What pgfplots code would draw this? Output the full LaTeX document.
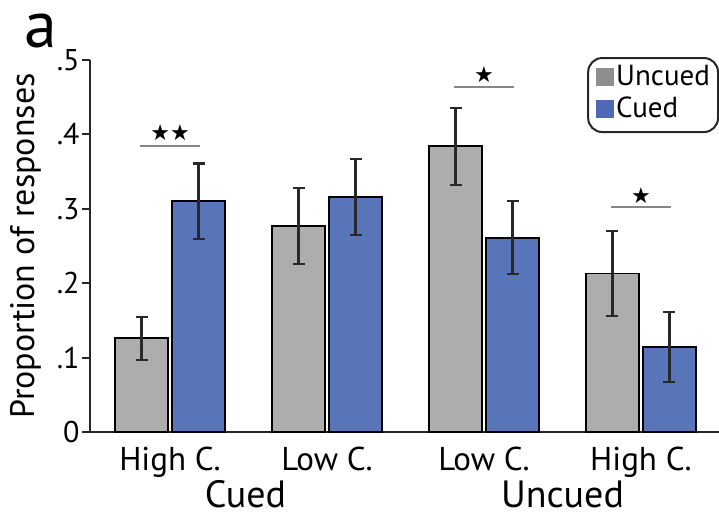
\documentclass[border=0pt]{standalone}
\usepackage{fontspec}
\setmainfont{PT Sans}
\newfontfamily\symfont{DejaVu Sans}
\usepackage{pgfplots}
\usepackage{pgfplotstable}
\pgfplotsset{compat=1.18}

\definecolor{barGray}{RGB}{172,173,172}
\definecolor{barBlue}{RGB}{89,117,186}
\definecolor{keyGray}{RGB}{142,142,142}
\definecolor{keyBlue}{RGB}{80,105,180}
\definecolor{errGray}{RGB}{40,40,40}
\definecolor{sigGray}{RGB}{135,135,135}

% mean proportion and error half-width per condition
\pgfplotstableread{
x  mean   err
0  0.126  0.029
1  0.277  0.051
2  0.384  0.052
3  0.213  0.057
}\uncuedtab
\pgfplotstableread{
x  mean   err
0  0.310  0.051
1  0.316  0.051
2  0.261  0.049
3  0.114  0.047
}\cuedtab

\newcommand{\sigstar}[1]{{\symfont\fontsize{11}{11}\selectfont #1}}
\newcommand{\keybox}[1]{{\color{#1}\rule[-0.3pt]{9pt}{9pt}}}

\begin{document}
\begin{tikzpicture}
\useasboundingbox (-45pt,-42pt) rectangle (314.5pt,216pt);
\begin{axis}[
  scale only axis,
  width=314.5pt, height=186pt,
  xmin=-0.51, xmax=3.497,
  ymin=0, ymax=0.5,
  clip=false,
  axis x line=bottom, axis y line=left,
  axis line style={-, line width=1pt, black!85},
  ytick={0,0.1,0.2,0.3,0.4,0.5},
  yticklabels={0,.1,.2,.3,.4,.5},
  xtick={0,1,2,3},
  xticklabels={High C.,Low C.,Low C.,High C.},
  x tick style={draw=none},
  y tick style={line width=1pt, black!85},
  ytick align=outside,
  major tick length=4pt,
  /pgf/number format/assume math mode=true,
  yticklabel style={font=\fontsize{15}{15}\selectfont, inner xsep=1pt},
  xticklabel style={font=\fontsize{16.5}{16.5}\selectfont, yshift=0pt},
  ybar,
  bar width=0.338,
]
\addplot[fill=barGray, draw=black, line width=0.9pt, bar shift=-0.1815,
  error bars/.cd, y dir=both, y explicit,
  error bar style={line width=1.1pt, errGray},
  error mark options={rotate=90, mark size=3pt, line width=1.1pt, errGray}]
  table[x=x, y=mean, y error=err] {\uncuedtab};
\addplot[fill=barBlue, draw=black, line width=0.9pt, bar shift=0.1815,
  error bars/.cd, y dir=both, y explicit,
  error bar style={line width=1.1pt, errGray},
  error mark options={rotate=90, mark size=3pt, line width=1.1pt, errGray}]
  table[x=x, y=mean, y error=err] {\cuedtab};

% significance markers
\draw[sigGray, line width=1.1pt] (axis cs:-0.19,0.384) -- (axis cs:0.19,0.384);
\node at (axis cs:0,0.402) {\sigstar{★★}};
\draw[sigGray, line width=1.1pt] (axis cs:1.81,0.464) -- (axis cs:2.19,0.464);
\node at (axis cs:2,0.481) {\sigstar{★}};
\draw[sigGray, line width=1.1pt] (axis cs:2.81,0.302) -- (axis cs:3.19,0.302);
\node at (axis cs:3,0.318) {\sigstar{★}};

% key
\coordinate (keypos) at (rel axis cs:1.0,1.008);
\node[anchor=north east, draw=black!85, line width=1pt, rounded corners=7pt,
      inner xsep=4pt, inner ysep=2.5pt, font=\fontsize{14.5}{16}\selectfont]
  at (keypos) {\begin{tabular}{@{}l@{}}
    \keybox{keyGray}\hspace{1pt}Uncued\\
    \keybox{keyBlue}\hspace{1pt}Cued
  \end{tabular}};

% group labels
\node[font=\fontsize{19}{19}\selectfont, inner sep=0pt] at ([yshift=-31pt]axis cs:0.48,0) {Cued};
\node[font=\fontsize{19}{19}\selectfont, inner sep=0pt] at ([yshift=-31pt]axis cs:2.5,0) {Uncued};

% y-axis title
\coordinate (ylab) at ([xshift=-32pt]rel axis cs:0,0.5);
\node[rotate=90, font=\fontsize{17}{17}\selectfont] at (ylab) {Proportion of responses};

% panel letter
\coordinate (plet) at ([xshift=-24.5pt,yshift=200.5pt]rel axis cs:0,0);
\node[font=\fontsize{33}{33}\selectfont, inner sep=0pt] at (plet) {a};
\end{axis}
\end{tikzpicture}
\end{document}
